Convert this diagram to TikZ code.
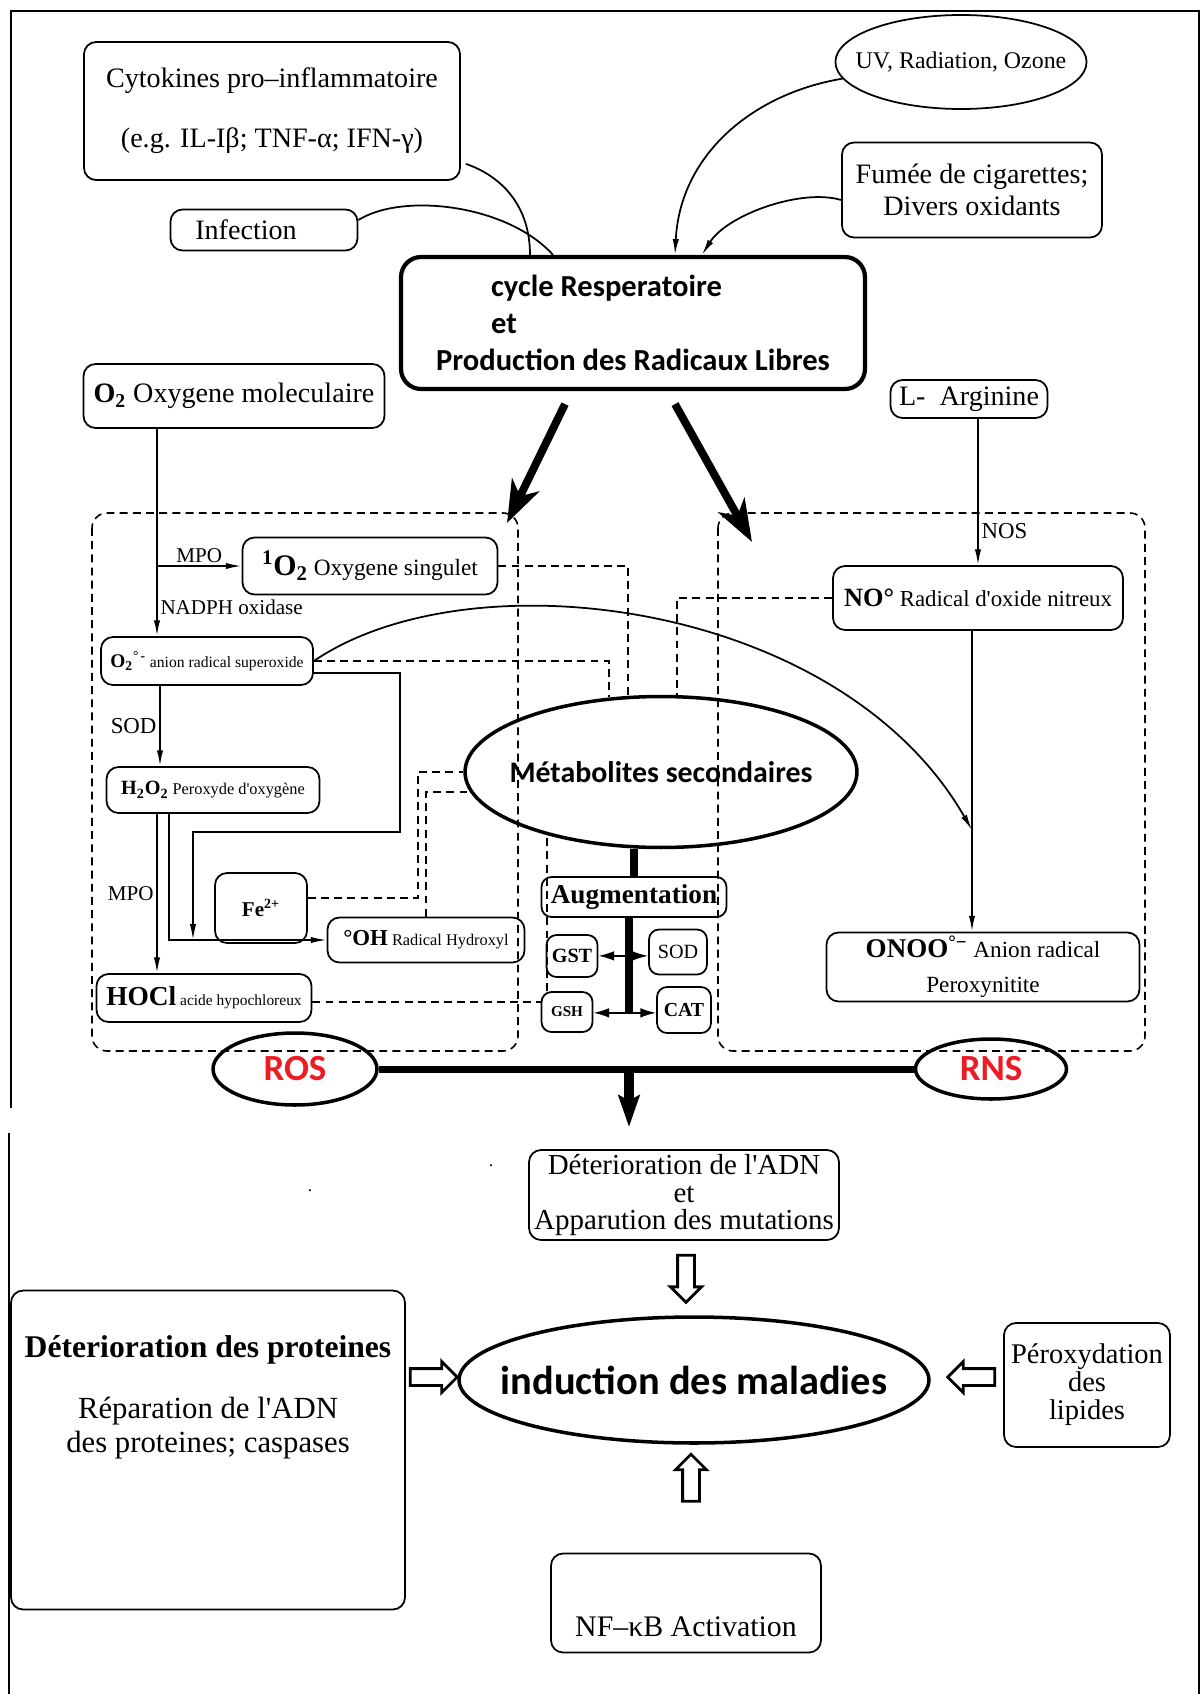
\documentclass[tikz,border=0pt]{standalone}
\usepackage{fontspec}
\setmainfont{Liberation Serif}
\newfontfamily\carlito{Carlito}
\usetikzlibrary{arrows.meta, positioning, shapes.geometric, shapes.arrows}
\definecolor{rosred}{RGB}{237,28,36}
\newcommand{\sz}[2]{\fontsize{#1}{#2}\selectfont}
\newcommand{\ap}{\textquotesingle}

\begin{document}
\begin{tikzpicture} [x = 0.02cm, y = -0.02cm,
    box/.style = {draw, rounded corners = 0.24cm, line width = 1pt, inner sep = 1pt, align = center, font = \sz{16}{19}},
    oval/.style = {draw, ellipse, line width = 2pt, inner sep = 0pt},
    region/.style = {line width = 0.9pt, dash pattern = on 4.5pt off 3pt, rounded corners = 0.3cm},
    dline/.style = {line width = 0.9pt, dash pattern = on 4.5pt off 3pt},
    link/.style = {line width = 1pt},
    arr/.style = {line width = 1pt, -{Latex[length = 9pt, width = 3.6pt]}},
    wide/.style = {line width = 1pt, -{Latex[length = 9pt, width = 5.5pt]}},
    bigarr/.style = {line width = 4.5pt, -{Stealth[length = 24pt, width = 17pt, inset = 7pt]}},
    fat/.style = {single arrow, draw, line width = 1.6pt, inner sep = 0.14cm, minimum width = 0.56cm, minimum height = 0.94cm, single arrow head extend = 0.14cm, anchor = tail},
    lbl/.style = {font = \sz{12}{14}, inner sep = 1.5pt}]

\useasboundingbox (0, 0) rectangle (1202, 1694);

\draw [line width = 1.4pt] (11, 1108) -- (11, 11) -- (1199, 11) -- (1199, 1694);
\draw [line width = 1.4pt] (9, 1133) -- (9, 1694);

\draw [region] (92, 513) rectangle (518, 1051);
\draw [region] (718, 513) rectangle (1145, 1051);

\node (cyto) [box, minimum width = 7.52cm, minimum height = 2.76cm] at (272, 111)
    {Cytokines pro--inflammatoire\\[15pt](e.g. IL-Iβ; TNF-α; IFN-γ)};
\node (infect) [box, minimum width = 3.74cm, minimum height = 0.82cm] at (264, 230) {Infection\hspace*{0.72cm}};
\node (uv) [oval, line width = 1pt, inner xsep = -0.33cm, minimum width = 4.97cm, minimum height = 1.88cm, font = \sz{13.6}{16}] at (961, 62) {UV, Radiation, Ozone};
\node (fumee) [box, minimum width = 5.2cm, minimum height = 1.9cm, font = \sz{16}{18}] at (972, 190) {Fumée de cigarettes;\\Divers oxidants};
\node (cyc) [box, line width = 2.4pt, rounded corners = 0.4cm, minimum width = 9.28cm, minimum height = 2.64cm, align = left, font = \carlito\bfseries\sz{17.4}{21}] at (633, 323)
    {\hspace*{1.1cm}cycle Resperatoire\\\hspace*{1.1cm}et\\Production des Radicaux Libres};

\node (o2) [box, minimum width = 6.02cm, minimum height = 1.28cm] at (234, 396) {\textbf{O\textsubscript{2}} Oxygene moleculaire};
\node (larg) [box, minimum width = 3.14cm, minimum height = 0.76cm] at (969, 399) {L-\ \ Arginine};

\node (sing) [box, minimum width = 5.1cm, minimum height = 1.14cm, font = \sz{13.3}{16}] at (370, 566) {{\sz{17}{17}\bfseries\textsuperscript{1}O\textsubscript{2}} Oxygene singulet};
\node (sup) [box, minimum width = 4.24cm, minimum height = 0.96cm, font = \sz{8.9}{11}] at (207, 661) {{\sz{11}{11}\bfseries O\textsubscript{2}\textsuperscript{°\,-}} anion radical superoxide};
\node (h2o2) [box, minimum width = 4.26cm, minimum height = 0.92cm, font = \sz{9.3}{11}] at (213, 790) {{\sz{11.5}{12}\bfseries H\textsubscript{2}O\textsubscript{2}} Peroxyde d\ap oxygène};
\node (fe) [box, minimum width = 1.84cm, minimum height = 1.4cm, font = \sz{12}{14}\bfseries] at (261, 908) {Fe\textsuperscript{2+}};
\node (oh) [box, minimum width = 3.94cm, minimum height = 0.9cm, font = \sz{9.3}{11}] at (426, 940) {{\sz{13}{13}\bfseries °OH} Radical Hydroxyl};
\node (hocl) [box, minimum width = 4.3cm, minimum height = 0.96cm, font = \sz{8.8}{11}] at (204, 998) {{\sz{15.6}{16}\bfseries HOCl} acide hypochloreux};

\node (no) [box, minimum width = 5.8cm, minimum height = 1.28cm, font = \sz{13}{15}] at (978, 598) {{\sz{15}{15}\bfseries NO°} Radical d\ap oxide nitreux};
\node (onoo) [box, minimum width = 6.26cm, minimum height = 1.38cm, font = \sz{13.2}{20}] at (983, 967) {{\sz{15.4}{15}\bfseries ONOO\textsuperscript{°−}} Anion radical\\Peroxynitite};

\node (meta) [oval, inner xsep = -0.26cm, minimum width = 7.84cm, minimum height = 3.02cm, font = \carlito\bfseries\sz{17}{20}] at (661, 772) {Métabolites secondaires};
\node (augm) [box, rounded corners = 0.2cm, minimum width = 3.7cm, minimum height = 0.8cm, font = \sz{15.5}{16}\bfseries] at (634, 897) {Augmentation};
\node (gst) [box, rounded corners = 0.2cm, minimum width = 1.02cm, minimum height = 0.84cm, font = \sz{11.5}{12}\bfseries] at (572, 956) {GST};
\node (sod) [box, rounded corners = 0.2cm, minimum width = 1.16cm, minimum height = 0.9cm, font = \sz{11.5}{12}] at (678, 952) {SOD};
\node (gsh) [box, rounded corners = 0.2cm, minimum width = 1.02cm, minimum height = 0.8cm, font = \sz{8.6}{10}\bfseries] at (567, 1012) {GSH};
\node (cat) [box, rounded corners = 0.2cm, minimum width = 1.08cm, minimum height = 0.92cm, font = \sz{11.3}{12}\bfseries] at (684, 1010) {CAT};

\node (ros) [oval, minimum width = 3.28cm, minimum height = 1.44cm, font = \carlito\bfseries\sz{21}{21}, text = rosred] at (295, 1069) {ROS};
\node (rns) [oval, minimum width = 3.02cm, minimum height = 1.2cm, font = \carlito\bfseries\sz{21}{21}, text = rosred] at (991, 1069) {RNS};

\node (adn) [box, minimum width = 6.2cm, minimum height = 1.8cm, font = \sz{16.5}{15.5}] at (684, 1195) {Déterioration de l\ap ADN\\et\\Apparution des mutations};
\node (induc) [oval, inner xsep = -0.56cm, minimum width = 9.4cm, minimum height = 2.52cm, font = \carlito\bfseries\sz{23}{23}] at (694, 1380) {induction des maladies};
\node (prot) [box, minimum width = 7.88cm, minimum height = 6.38cm, text depth = 2.24cm, font = \sz{17.5}{19}] at (208, 1450)
    {{\sz{18}{19}\bfseries Déterioration des proteines}\\[0.55cm]Réparation de l\ap ADN\\des proteines; caspases};
\node (perox) [box, minimum width = 3.32cm, minimum height = 2.48cm, font = \sz{16.2}{16}] at (1087, 1385) {Péroxydation\\des\\lipides};
\node (nfkb) [box, minimum width = 5.4cm, minimum height = 1.98cm, text height = 1.44cm, text depth = 0.1cm, font = \sz{17}{19}] at (686, 1603) {NF--κB Activation};

\node (dota) at (310, 1191) {.};
\node (dotb) at (491, 1166) {.};

\node (fa) [fat, rotate = -90] at ([shift={(2,13)}]adn.south) {};
\node (fb) [fat] at ([shift={(3,-73)}]prot.east) {};
\node (fc) [fat, rotate = 180] at ([shift={(-7,-8)}]perox.west) {};
\node (fd) [fat, rotate = 90] at ([shift={(5,-50)}]nfkb.north) {};

\draw [link] ([shift={(5,-17)}]cyto.south east) .. controls +(35,12) and +(0,-50) .. ([shift={(-103,0)}]cyc.north);
\draw [link] ([shift={(0,-10)}]infect.east) .. controls +(45,-28) and +(-45,-50) .. ([shift={(-80,0)}]cyc.north);
\draw [arr] (uv.188) .. controls +(-90,15) and +(5,-100) .. ([shift={(42,0)}]cyc.north);
\draw [arr] ([shift={(0,10)}]fumee.west) .. controls +(-40,-12) and +(25,-40) .. ([shift={(69,0)}]cyc.north);

\coordinate (rostip) at (507, 523);
\coordinate (rnstip) at (752, 542);
\draw [bigarr] ([shift={(-68,13)}]cyc.south) -- (rostip);
\draw [bigarr] ([shift={(42,13)}]cyc.south) -- (rnstip);

\coordinate (o2line) at ([shift={(-77,0)}]o2.south);
\draw [arr] (o2line) -- (o2line |- sup.north) node [lbl, pos = 0.86, right] {NADPH oxidase};
\draw [arr] (o2line |- sing.west) -- (sing.west) node [lbl, midway, above] {MPO};

\coordinate (supb) at ([shift={(-47,0)}]sup.south);
\draw [arr] (supb) -- (supb |- h2o2.north) node [lbl, midway, left, font = \sz{13}{15}] {SOD};

\coordinate (h2a) at ([shift={(-56,0)}]h2o2.south);
\coordinate (h2b) at ([shift={(-44,0)}]h2o2.south);
\draw [arr] (h2a) -- (h2a |- hocl.north) node [lbl, midway, left] {MPO};
\draw [arr] (h2b) |- (oh.west);

\coordinate (bend) at (400, 832);
\coordinate (jn) at (193, 940);
\draw [arr] ([shift={(0,12)}]sup.east) -| (bend) -| (jn);

\draw [dline] ([shift={(0,-10)}]fe.east) -- ++(110,0) |- (meta.west);
\draw [dline] (oh.north) |- (meta.186);
\draw [dline] (sing.east) -| ([shift={(-33,0)}]meta.north);
\draw [dline] (sup.east) -| ([shift={(-52,2)}]meta.north);
\draw [dline] (no.west) -| ([shift={(16,0)}]meta.north);
\draw [dline] ([shift={(0,4)}]hocl.east) -- ([shift={(0,-10)}]gsh.west);
\coordinate (gshtop) at ([shift={(-20,0)}]gsh.north);
\draw [dline] (gshtop) -- (gshtop |- meta.208);

\coordinate (meet) at (972, 830);
\draw [arr] (sup.east) .. controls +(157,-107) and +(-132,-230) .. (meet);

\coordinate (argb) at (no.north |- larg.south);
\path [arr]
    (argb) edge node [lbl, pos = 0.77, right, font = \sz{13}{15}] {NOS} (no.north);
\coordinate (nob) at ([shift={(-6,0)}]no.south);
\draw [arr] (nob) -- (nob |- onoo.north);

\draw [line width = 4.5pt] (augm.north |- meta.south) -- (augm.north);
\draw [line width = 4.5pt] ([shift={(-5,0)}]augm.south) -- ++(0,95) coordinate (barb);
\coordinate (barm) at ([shift={(-5,38)}]augm.south);
\draw [wide] (barm) -- (barm -| gst.east);
\draw [wide] (barm) -- (barm -| sod.west);
\draw [wide] (barb) -- (barb -| gsh.east);
\draw [wide] (barb) -- (barb -| cat.west);

\draw [line width = 4pt] (ros) -- (rns);
\coordinate (split) at (barb |- ros.east);
\coordinate (hit) at (629, 1127);
\draw [line width = 5.5pt, -{Stealth[length = 18pt, width = 12pt, inset = 3pt]}] (split) -- (hit);

\end{tikzpicture}
\end{document}
